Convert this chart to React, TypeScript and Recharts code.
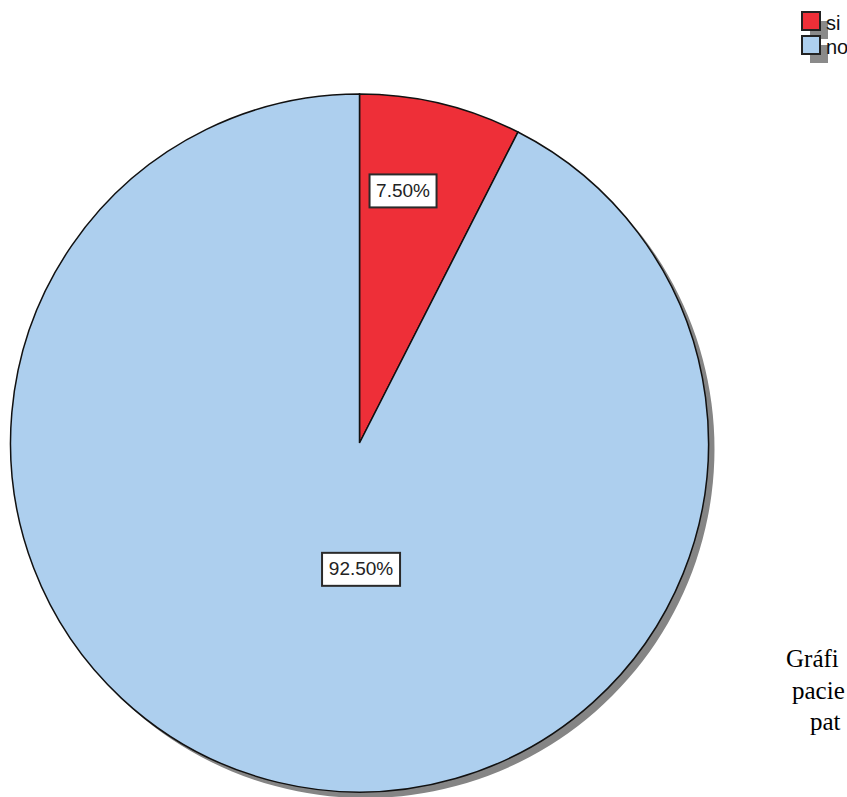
import { PieChart, Pie, Cell } from "recharts";

const categories = ["si", "no"];
const percentages = [7.5, 92.5];
const sliceColors = ["#EE2F38", "#ADCFEE"];
const captionLines = ["Gráfi", "pacie", "pat"];

const data = categories.map((name, i) => ({ name, value: percentages[i] }));
const shadowData = [{ name: "shadow", value: 100 }];

const CX = 359.5;
const CY = 443;
const R = 349;

// where SPSS put each percentage box, relative to the slice middle
const labelPlace = [
  { r: 0.733, shift: 3.7 },
  { r: 0.362, shift: 14.2 },
];

const RADIAN = Math.PI / 180;

const renderLabel = (props: any) => {
  const { cx, cy, midAngle, outerRadius, percent, index } = props;
  const place = labelPlace[index] || { r: 0.6, shift: 0 };
  const angle = (midAngle + place.shift) * RADIAN;
  const x = cx + outerRadius * place.r * Math.cos(angle);
  const y = cy - outerRadius * place.r * Math.sin(angle);
  const text = `${(percent * 100).toFixed(2)}%`;
  const w = text.length * 11 + 12;
  const h = 33;
  return (
    <g>
      <rect
        x={x - w / 2}
        y={y - h / 2}
        width={w}
        height={h}
        fill="#fff"
        stroke="#2a2a2a"
        strokeWidth={2}
      />
      <text
        x={x}
        y={y + 1}
        textAnchor="middle"
        dominantBaseline="middle"
        fontFamily="'Liberation Sans', Arial, sans-serif"
        fontSize={19}
        fill="#222"
      >
        {text}
      </text>
    </g>
  );
};

export default function App() {
  return (
    <div
      style={{
        position: "absolute",
        left: 0,
        top: 0,
        width: 847,
        height: 797,
        overflow: "hidden",
        background: "#fff",
      }}
    >
      <PieChart width={847} height={797} margin={{ top: 0, right: 0, bottom: 0, left: 0 }}>
        <Pie
          data={shadowData}
          dataKey="value"
          cx={CX + 6}
          cy={CY + 6}
          outerRadius={R}
          startAngle={90}
          endAngle={-270}
          fill="#858585"
          stroke="none"
          isAnimationActive={false}
        />
        <Pie
          data={data}
          dataKey="value"
          nameKey="name"
          cx={CX}
          cy={CY}
          outerRadius={R}
          startAngle={90}
          endAngle={-270}
          stroke="#111"
          strokeWidth={1.5}
          label={renderLabel}
          labelLine={false}
          isAnimationActive={false}
        >
          {data.map((d, i) => (
            <Cell key={d.name} fill={sliceColors[i]} />
          ))}
        </Pie>
      </PieChart>

      <svg
        width={847}
        height={797}
        style={{ position: "absolute", left: 0, top: 0, pointerEvents: "none" }}
      >
        {categories.map((c, i) => (
          <rect key={c + "-sh"} x={810} y={21 + i * 24} width={18} height={18} fill="#8a8a8a" />
        ))}
        {categories.map((c, i) => (
          <g key={c}>
            <rect
              x={802}
              y={12 + i * 24}
              width={18}
              height={18}
              fill={sliceColors[i]}
              stroke="#222"
              strokeWidth={2}
            />
            <text
              x={826}
              y={30 + i * 24}
              fontFamily="'Liberation Sans', Arial, sans-serif"
              fontSize={20}
              fill="#111"
            >
              {c}
            </text>
          </g>
        ))}
        {captionLines.map((line, i) => (
          <text
            key={line}
            x={[786, 792, 810][i]}
            y={667 + i * 31.5}
            fontFamily="'Liberation Serif', 'Times New Roman', serif"
            fontSize={25}
            fill="#000"
          >
            {line}
          </text>
        ))}
      </svg>
    </div>
  );
}
